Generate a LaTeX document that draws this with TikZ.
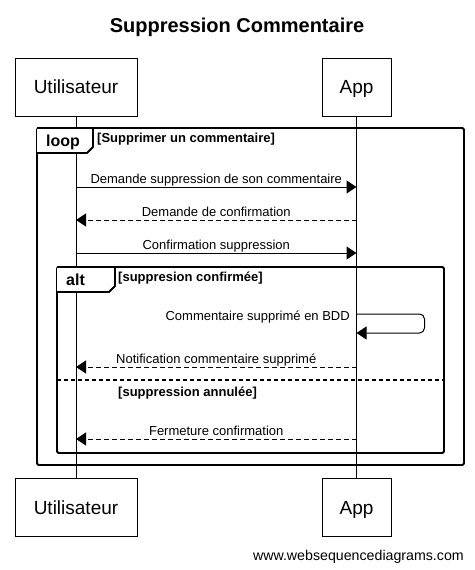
\documentclass[tikz,border=0pt]{standalone}
\usepackage{fontspec}
\setmainfont{Liberation Sans}
\usetikzlibrary{arrows.meta}
\begin{document}
\begin{tikzpicture}[x=1pt,y=-1pt,
  actor/.style={draw,line width=1pt,minimum height=58pt,inner sep=0pt,
    text height=13.7pt,text depth=0pt,font=\fontsize{19}{22}\selectfont},
  life/.style={line width=1pt},
  msg/.style={line width=1pt,-{Triangle[length=10pt,width=13pt]}},
  ret/.style={msg,dash pattern=on 5pt off 3pt},
  lbl/.style={font=\fontsize{13}{15}\selectfont,inner sep=0pt},
  frame/.style={line width=1.8pt,rounded corners=1.5pt},
  tag/.style={line width=1.8pt,fill=white,line join=round},
  tagtext/.style={font=\fontsize{16}{18}\selectfont\bfseries,inner sep=0pt,anchor=base west},
  cond/.style={font=\fontsize{13}{15}\selectfont\bfseries,inner sep=0pt,anchor=base west}]
\useasboundingbox (0,0) rectangle (474,570);
% title
\node[font=\fontsize{20}{23}\selectfont\bfseries,inner sep=0pt,anchor=base] (title) at (237,32.5) {Suppression Commentaire};
% actors
\node[actor,minimum width=122pt] (ut) at (76,87) {Utilisateur};
\node[actor,minimum width=69pt] (ap) at (356.5,87) {App};
\node[actor,minimum width=122pt] (ub) at (76,507.5) {Utilisateur};
\node[actor,minimum width=69pt] (ab) at (356.5,507.5) {App};
% lifelines
\draw[life] (ut.south) -- (ub.north);
\draw[life] (ap.south) -- (ab.north);
% frames
\draw[frame] (37,128) rectangle (464,465);
\draw[tag] (37,128) -- (93,128) -- (93,147) -- (87,153) -- (37,153);
\node[tagtext] (looptag) at (46,146) {loop};
\node[cond] (loopcond) at (97,142) {[Supprimer un commentaire]};
\draw[frame] (57,267) rectangle (444,453);
\draw[tag] (57,267) -- (115,267) -- (115,286) -- (109,292) -- (57,292);
\node[tagtext] (alttag) at (66,285) {alt};
\node[cond] (altcond1) at (118,281) {[suppresion confirmée]};
\draw[line width=1.5pt,dash pattern=on 4pt off 3pt] (57,380) -- (444,380);
\node[cond] (altcond2) at (118,396) {[suppression annulée]};
% rows
\coordinate (r1) at (0,187);
\coordinate (r2) at (0,220);
\coordinate (r3) at (0,253);
\coordinate (r4) at (0,314);
\coordinate (r5) at (0,333);
\coordinate (r6) at (0,367);
\coordinate (r7) at (0,439);
% messages
\draw[msg] (ut |- r1) -- node[lbl,anchor=base,yshift=4pt] (l1) {Demande suppression de son commentaire} (ap |- r1);
\draw[ret] (ap |- r2) -- node[lbl,anchor=base,yshift=4pt] (l2) {Demande de confirmation} (ut |- r2);
\draw[msg] (ut |- r3) -- node[lbl,anchor=base,yshift=4pt] (l3) {Confirmation suppression} (ap |- r3);
\draw[msg,rounded corners=5pt] (ap |- r4) -- ++(68,0) -- ++(0,19) -- (ap |- r5);
\node[lbl,anchor=base east] (l4) at (350,320) {Commentaire supprimé en BDD};
\draw[ret] (ap |- r6) -- node[lbl,anchor=base,yshift=4pt] (l5) {Notification commentaire supprimé} (ut |- r6);
\draw[ret] (ap |- r7) -- node[lbl,anchor=base,yshift=4pt] (l6) {Fermeture confirmation} (ut |- r7);
% watermark
\node[font=\fontsize{14.2}{16}\selectfont,inner sep=0pt,anchor=base east] (wm) at (464,560) {www.websequencediagrams.com};
\end{tikzpicture}
\end{document}
